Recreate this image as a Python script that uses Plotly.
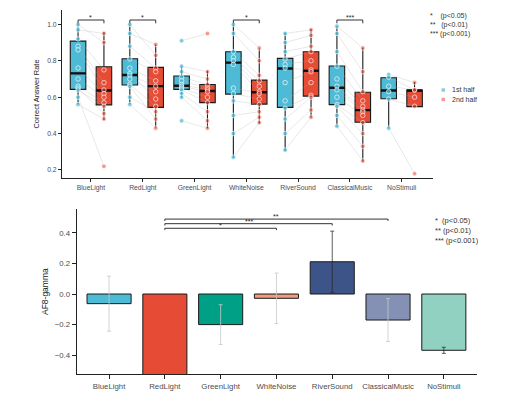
import plotly.graph_objects as go

# ---------------- data ----------------
categories = ["BlueLight", "RedLight", "GreenLight", "WhiteNoise",
              "RiverSound", "ClassicalMusic", "NoStimuli"]

# box statistics (correct answer rate)
first_lo = [0.562, 0.562, 0.599, 0.270, 0.306, 0.443, 0.434]
first_q1 = [0.643, 0.667, 0.643, 0.617, 0.544, 0.559, 0.591]
first_med = [0.731, 0.722, 0.663, 0.790, 0.758, 0.652, 0.637]
first_q3 = [0.908, 0.811, 0.716, 0.850, 0.813, 0.771, 0.707]
first_hi = [1.000, 1.000, 0.767, 1.000, 0.954, 0.990, 0.725]

second_lo = [0.474, 0.434, 0.430, 0.456, 0.489, 0.245, 0.548]
second_q1 = [0.558, 0.544, 0.570, 0.562, 0.606, 0.462, 0.548]
second_med = [0.637, 0.661, 0.634, 0.627, 0.745, 0.529, 0.637]
second_q3 = [0.767, 0.764, 0.670, 0.694, 0.850, 0.627, 0.639]
second_hi = [0.960, 0.890, 0.745, 0.868, 0.974, 0.871, 0.683]

# paired subject values (1st half, 2nd half) per condition
subj_first = {
    "BlueLight": [1.00, 0.97, 0.92, 0.88, 0.86, 0.76, 0.70, 0.66, 0.65, 0.64, 0.60, 0.56],
    "RedLight": [1.00, 0.95, 0.88, 0.81, 0.76, 0.73, 0.72, 0.70, 0.67, 0.66, 0.60, 0.56],
    "GreenLight": [0.91, 0.77, 0.74, 0.71, 0.69, 0.67, 0.66, 0.65, 0.64, 0.62, 0.60, 0.47],
    "WhiteNoise": [1.00, 0.95, 0.85, 0.82, 0.80, 0.78, 0.65, 0.62, 0.58, 0.50, 0.40, 0.27],
    "RiverSound": [0.95, 0.90, 0.85, 0.81, 0.78, 0.76, 0.68, 0.58, 0.54, 0.48, 0.40, 0.31],
    "ClassicalMusic": [0.99, 0.95, 0.85, 0.77, 0.70, 0.66, 0.64, 0.60, 0.56, 0.55, 0.50, 0.44],
    "NoStimuli": [0.725, 0.71, 0.66, 0.63, 0.59, 0.43],
}
subj_second = {
    "BlueLight": [0.90, 0.95, 0.75, 0.68, 0.64, 0.62, 0.60, 0.57, 0.51, 0.55, 0.22, 0.48],
    "RedLight": [0.83, 0.89, 0.76, 0.74, 0.69, 0.59, 0.66, 0.63, 0.55, 0.48, 0.52, 0.43],
    "GreenLight": [0.95, 0.74, 0.70, 0.67, 0.65, 0.64, 0.63, 0.60, 0.57, 0.52, 0.47, 0.43],
    "WhiteNoise": [0.87, 0.80, 0.72, 0.69, 0.66, 0.63, 0.62, 0.59, 0.56, 0.52, 0.49, 0.46],
    "RiverSound": [0.97, 0.94, 0.88, 0.85, 0.80, 0.75, 0.74, 0.68, 0.61, 0.60, 0.53, 0.49],
    "ClassicalMusic": [0.87, 0.74, 0.63, 0.58, 0.55, 0.53, 0.52, 0.50, 0.46, 0.40, 0.33, 0.25],
    "NoStimuli": [0.68, 0.64, 0.64, 0.60, 0.55, 0.18],
}

# significance (top panel): category -> label
top_sig = {"BlueLight": "*", "RedLight": "*", "WhiteNoise": "*", "ClassicalMusic": "***"}
top_sig_y = 1.024

# AF8-gamma bar chart
gamma_mean = [-0.063, -0.62, -0.200, -0.028, 0.211, -0.170, -0.368]
gamma_err = [0.18, 0.08, 0.13, 0.165, 0.20, 0.14, 0.02]
dark_err = ["RiverSound", "NoStimuli"]

# pairwise comparisons (bottom): (from, to, height, label)
comparisons = [("RedLight", "WhiteNoise", 0.43, "*"),
               ("RedLight", "RiverSound", 0.46, "***"),
               ("RedLight", "ClassicalMusic", 0.49, "**")]

NB = "&nbsp;"
p_legend_top = ("*" + NB * 4 + "(p<0.05)<br>**" + NB * 3 + "(p<0.01)<br>***" + NB + "(p<0.001)")
p_legend_bottom = ("*" + NB * 2 + "(p<0.05)<br>**" + NB + "(p<0.01)<br>***" + NB + "(p<0.001)")
half_names = ["1st half", "2nd half"]

# ---------------- style ----------------
BLUE = "#4DBBD5"
RED = "#E64B35"
bar_colors = ["#4DBBD5", "#E64B35", "#00A087", "#F39B7F", "#3C5488", "#8491B4", "#91D1C2"]
FONT = "Liberation Sans, Arial, sans-serif"
OFF = 0.25     # half offset of the paired boxes
BW = 0.30      # box width
PAGE_MARGIN = 8            # default body margin of the html page
W, H = 530 - PAGE_MARGIN, 397 - PAGE_MARGIN


def fx(px):   # window pixel -> paper fraction
    return (px - PAGE_MARGIN) / W


def fy(py):
    return 1 - (py - PAGE_MARGIN) / H


idx = list(range(len(categories)))
fig = go.Figure()

# connecting lines between paired subjects
lx, ly = [], []
for i, c in enumerate(categories):
    for a, b in zip(subj_first[c], subj_second[c]):
        lx += [i - OFF, i + OFF, None]
        ly += [a, b, None]
fig.add_trace(go.Scatter(x=lx, y=ly, mode="lines", hoverinfo="skip",
                         line=dict(color="rgba(170,170,170,0.35)", width=0.8),
                         showlegend=False, xaxis="x", yaxis="y"))

# boxes
for sgn, lo, q1, med, q3, hi, col in [
        (-1, first_lo, first_q1, first_med, first_q3, first_hi, BLUE),
        (1, second_lo, second_q1, second_med, second_q3, second_hi, RED)]:
    fig.add_trace(go.Box(x=[i + sgn * OFF for i in idx], lowerfence=lo, q1=q1,
                         median=med, q3=q3, upperfence=hi, width=BW,
                         fillcolor=col, line=dict(color="#1a1a1a", width=1.1),
                         whiskerwidth=0, showlegend=False, xaxis="x", yaxis="y"))
    mx, my = [], []
    for i, m in zip(idx, med):
        mx += [i + sgn * OFF - BW / 2, i + sgn * OFF + BW / 2, None]
        my += [m, m, None]
    fig.add_trace(go.Scatter(x=mx, y=my, mode="lines", line=dict(color="#111", width=2.4),
                             hoverinfo="skip", showlegend=False, xaxis="x", yaxis="y"))

# subject points
for sgn, data, col in [(-1, subj_first, "rgba(77,187,213,0.75)"),
                       (1, subj_second, "rgba(230,75,53,0.55)")]:
    px, py = [], []
    for i, c in enumerate(categories):
        px += [i + sgn * OFF] * len(data[c])
        py += data[c]
    fig.add_trace(go.Scatter(x=px, y=py, mode="markers", showlegend=False,
                             marker=dict(size=4.5, color=col,
                                         line=dict(color="rgba(255,255,255,0.8)", width=0.8)),
                             xaxis="x", yaxis="y"))

# top significance brackets
bx, by = [], []
for c, lab in top_sig.items():
    i = categories.index(c)
    bx += [i - OFF, i - OFF, i + OFF, i + OFF, None]
    by += [top_sig_y - 0.018, top_sig_y, top_sig_y, top_sig_y - 0.018, None]
    fig.add_annotation(x=i, y=top_sig_y, xref="x", yref="y", text=lab, showarrow=False,
                       yanchor="bottom", yshift=-3, font=dict(size=7, color="#222", family=FONT))
fig.add_trace(go.Scatter(x=bx, y=by, mode="lines", line=dict(color="#333", width=1),
                         hoverinfo="skip", showlegend=False, xaxis="x", yaxis="y"))

# ---------------- bottom bar chart ----------------
fig.add_trace(go.Bar(x=idx, y=gamma_mean, width=0.79, marker=dict(color=bar_colors,
                     line=dict(color="#1a1a1a", width=1)), showlegend=False,
                     xaxis="x2", yaxis="y2"))
for dark in (False, True):
    ex = [i for i, c in enumerate(categories) if (c in dark_err) == dark]
    fig.add_trace(go.Scatter(x=ex, y=[gamma_mean[i] for i in ex], mode="markers",
                             marker=dict(size=0.1, color="rgba(0,0,0,0)"),
                             error_y=dict(type="data", array=[gamma_err[i] for i in ex],
                                          color="rgba(40,40,40,0.75)" if dark else "rgba(200,200,200,0.8)",
                                          thickness=1, width=2),
                             showlegend=False, hoverinfo="skip", xaxis="x2", yaxis="y2"))

cx, cy = [], []
for a, b, h, lab in comparisons:
    ia, ib = categories.index(a), categories.index(b)
    cx += [ia, ia, ib, ib, None]
    cy += [h - 0.012, h, h, h - 0.012, None]
    fig.add_annotation(x=(ia + ib) / 2, y=h, xref="x2", yref="y2", text=lab, showarrow=False,
                       yanchor="bottom", yshift=-3, font=dict(size=7, color="#222", family=FONT))
fig.add_trace(go.Scatter(x=cx, y=cy, mode="lines", line=dict(color="#333", width=1),
                         hoverinfo="skip", showlegend=False, xaxis="x2", yaxis="y2"))

# p-value legends
fig.add_annotation(x=fx(428), y=fy(10), xref="paper", yref="paper", text=p_legend_top,
                   showarrow=False, xanchor="left", yanchor="top", align="left",
                   font=dict(size=7, color="#333", family=FONT))
fig.add_annotation(x=fx(433), y=fy(214), xref="paper", yref="paper", text=p_legend_bottom,
                   showarrow=False, xanchor="left", yanchor="top", align="left",
                   font=dict(size=7.5, color="#333", family=FONT))

# half legend (compact key: small squares + labels)
for k, (name, col) in enumerate(zip(half_names, ["rgba(77,187,213,0.7)", "rgba(230,75,53,0.55)"])):
    yk = 90 + 9.5 * k
    fig.add_shape(type="rect", xref="paper", yref="paper",
                  x0=fx(441.5), x1=fx(445), y0=fy(yk + 1.7), y1=fy(yk - 1.7),
                  fillcolor=col, line=dict(width=0))
    fig.add_annotation(x=fx(450), y=fy(yk), xref="paper", yref="paper", text=name,
                       showarrow=False, xanchor="left", yanchor="middle",
                       font=dict(size=7, color="#333", family=FONT))

axis_common = dict(showline=True, linecolor="#222", linewidth=1, ticks="outside",
                   tickcolor="#222", showgrid=False, zeroline=False, automargin=False,
                   tickfont=dict(family=FONT, color="#4d4d4d"))

fig.update_layout(
    width=W, height=H, margin=dict(l=0, r=0, t=0, b=0),
    plot_bgcolor="white", paper_bgcolor="white",
    font=dict(family=FONT, color="#222"),
    xaxis=dict(domain=[fx(62), fx(432.7)], range=[-0.56, 6.6], tickvals=idx,
               ticktext=categories, ticklen=3, anchor="y", **axis_common),
    yaxis=dict(domain=[fy(178), fy(10)], range=[0.156, 1.079],
               tickvals=[0.2, 0.4, 0.6, 0.8, 1.0], tickformat=".1f", ticklen=3, anchor="x",
               title=dict(text="Correct Answer Rate", font=dict(size=7.5, family=FONT), standoff=6),
               **axis_common),
    xaxis2=dict(domain=[fx(76.7), fx(477.3)], range=[-0.58, 6.6], tickvals=idx,
                ticktext=categories, ticklen=4, anchor="y2", **axis_common),
    yaxis2=dict(domain=[fy(374.3), fy(209)], range=[-0.525, 0.556],
                tickvals=[-0.4, -0.2, 0.0, 0.2, 0.4], tickformat=".1f", ticklen=4, anchor="x2",
                title=dict(text="AF8-gamma", font=dict(size=8.5, family=FONT), standoff=4),
                **axis_common),
    showlegend=False,
)
fig.update_xaxes(tickfont_size=6.8, selector=dict(anchor="y"))
fig.update_yaxes(tickfont_size=6.8, selector=dict(anchor="x"))
fig.update_xaxes(tickfont_size=7.8, selector=dict(anchor="y2"))
fig.update_yaxes(tickfont_size=7.8, selector=dict(anchor="x2"))

fig.write_html("out.html")
